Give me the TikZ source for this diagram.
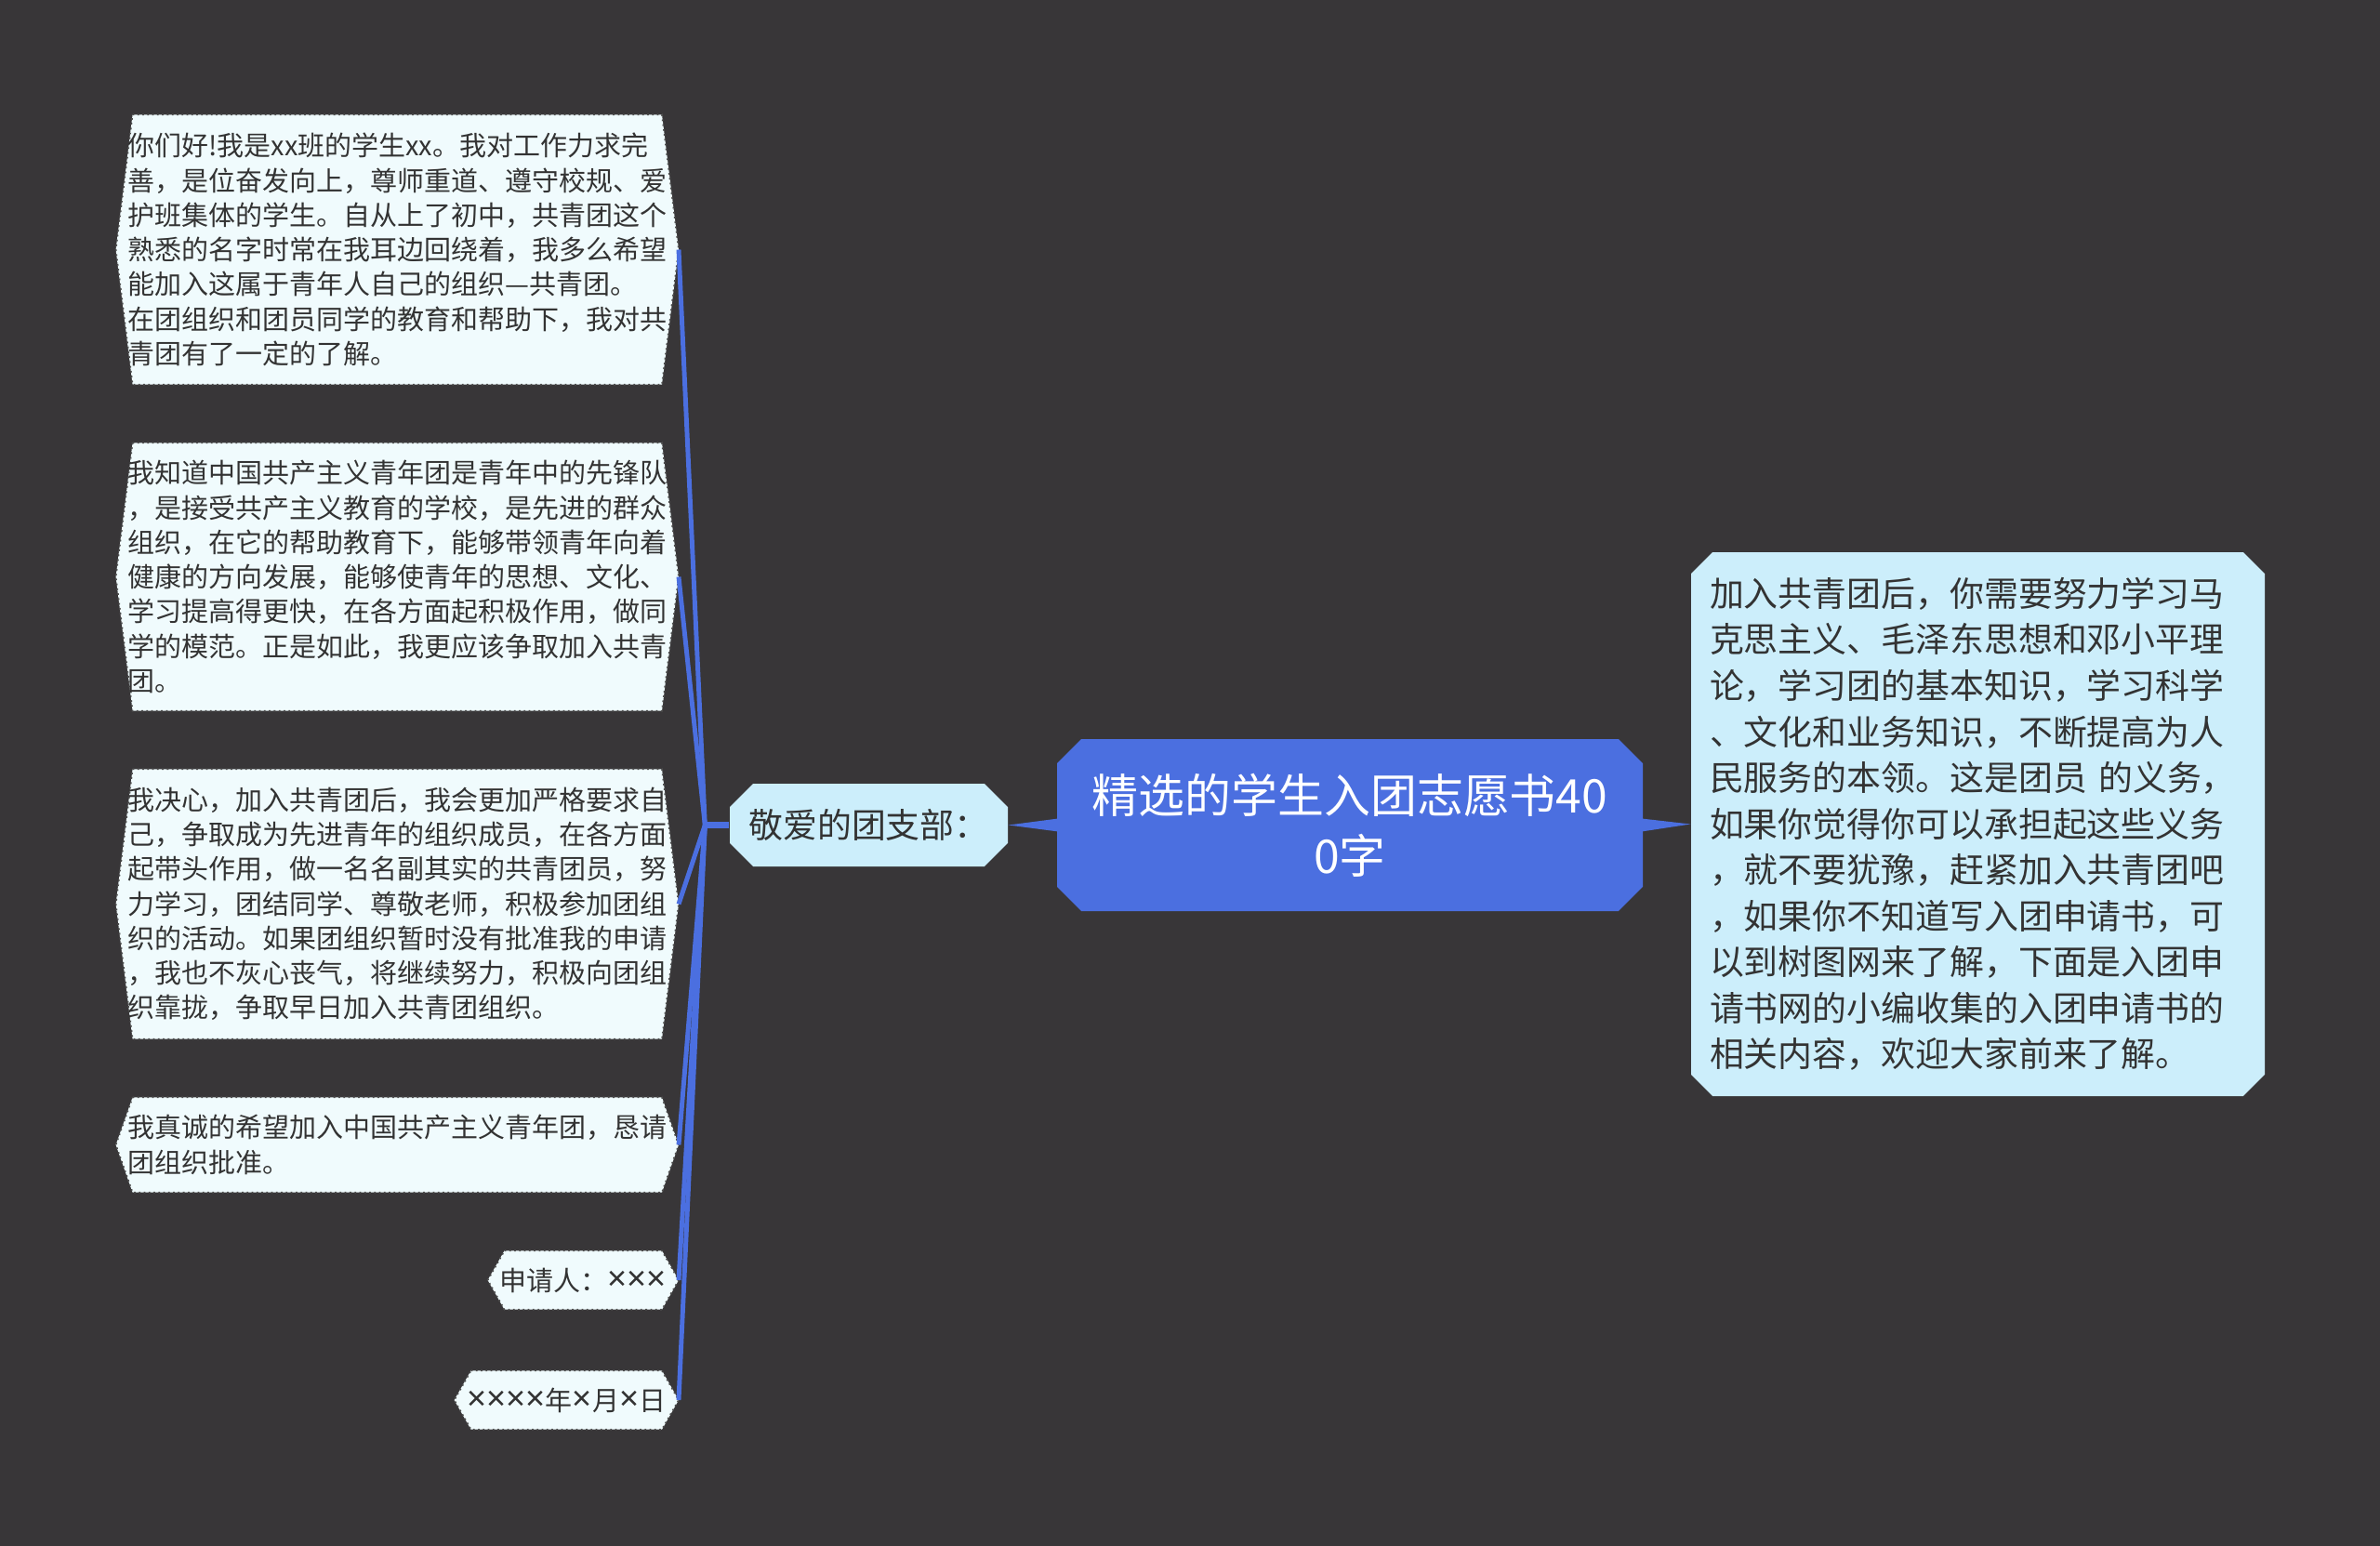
\documentclass[tikz,border=0pt]{standalone}
\usepackage{fontspec}
\newfontfamily\cjk{Noto Sans CJK SC}
\newfontfamily\latin{Noto Sans}
\usepackage{tikz}
\usetikzlibrary{shapes.misc, positioning, calc, backgrounds}

\definecolor{bgdark}{HTML}{383638}
\definecolor{mapblue}{HTML}{4B6FE0}
\definecolor{leaffill}{HTML}{F0FBFD}
\definecolor{notefill}{HTML}{CCEEFB}
\definecolor{textgray}{HTML}{333333}

\newcommand{\mx}{{\latin\fontsize{10.5}{10.6}\selectfont ×}}

\begin{document}
\begin{tikzpicture}[
            leaf_box/.style={rectangle, inner xsep=0.12cm, inner ysep=0pt, anchor=east,
            text width=5.8cm, align=left, text=textgray, font=\cjk\fontsize{8.25}{10.6}\selectfont},
            tag_box/.style={rectangle, inner sep=0pt, anchor=east, align=center,
            text=textgray, minimum height=0.62cm, font=\cjk\fontsize{8.25}{10.6}\selectfont},
            leaf_edge/.style={fill=leaffill, draw=black!70, densely dotted, line width=0.5pt},
            topic_box/.style={chamfered rectangle, chamfered rectangle xsep=0.15cm, fill=notefill,
            inner sep=0pt, align=center, text=textgray, font=\cjk\fontsize{10.5}{14.1}\selectfont},
            root_box/.style={chamfered rectangle, chamfered rectangle xsep=0.16cm, fill=mapblue,
            inner sep=0pt, align=center, text=white, font=\cjk\fontsize{14.2}{18.5}\selectfont},
            note_box/.style={chamfered rectangle, chamfered rectangle xsep=0.13cm, fill=notefill,
            inner sep=0pt, text width=5.77cm, align=left, text=textgray,
            font=\cjk\fontsize{10.5}{14.1}\selectfont},
            link/.style={draw=mapblue, line width=1.4pt}
        ]

            % Centre and main branches
            \node[root_box, minimum width=6.30cm, minimum height=1.85cm] (root) at (14.52, -8.875)
                {精选的学生入团志愿书40\\0字};
            \node[topic_box, minimum width=2.99cm, minimum height=0.89cm] (branch) at (9.345, -8.875)
                {敬爱的团支部：};
            \node[note_box, minimum width=6.17cm, minimum height=5.85cm] (note) at (21.275, -8.865)
                {加入共青团后，你需要努力学习马\\
                 克思主义、毛泽东思想和邓小平理\\
                 论，学习团的基本知识，学习科学\\
                 、文化和业务知识，不断提高为人\\
                 民服务的本领。这是团员 的义务，\\
                 如果你觉得你可以承担起这些义务\\
                 ，就不要犹豫，赶紧加入共青团吧\\
                 ，如果你不知道写入团申请书，可\\
                 以到树图网来了解，下面是入团申\\
                 请书网的小编收集的入团申请书的\\
                 相关内容，欢迎大家前来了解。};

            % Letter paragraphs (left column)
            \node[leaf_box, minimum height=2.89cm] (l1) at (7.30, -2.685)
                {你们好!我是xx班的学生xx。我对工作力求完\\
                 善，是位奋发向上，尊师重道、遵守校规、爱\\
                 护班集体的学生。自从上了初中，共青团这个\\
                 熟悉的名字时常在我耳边回绕着，我多么希望\\
                 能加入这属于青年人自己的组织—共青团。\\
                 在团组织和团员同学的教育和帮助下，我对共\\
                 青团有了一定的了解。};
            \node[leaf_box, minimum height=2.87cm] (l2) at (7.30, -6.205)
                {我知道中国共产主义青年团是青年中的先锋队\\
                 ，是接受共产主义教育的学校，是先进的群众\\
                 组织，在它的帮助教育下，能够带领青年向着\\
                 健康的方向发展，能够使青年的思想、文化、\\
                 学习提高得更快，在各方面起积极作用，做同\\
                 学的模范。正是如此，我更应该争取加入共青\\
                 团。};
            \node[leaf_box, minimum height=2.89cm] (l3) at (7.30, -9.725)
                {我决心，加入共青团后，我会更加严格要求自\\
                 己，争取成为先进青年的组织成员，在各方面\\
                 起带头作用，做一名名副其实的共青团员，努\\
                 力学习，团结同学、尊敬老师，积极参加团组\\
                 织的活动。如果团组织暂时没有批准我的申请\\
                 ，我也不灰心丧气，将继续努力，积极向团组\\
                 织靠拢，争取早日加入共青团组织。};
            \node[leaf_box, minimum height=1.01cm] (l4) at (7.30, -12.315)
                {我真诚的希望加入中国共产主义青年团，恳请\\
                 团组织批准。};
            \node[tag_box, minimum width=2.04cm] (l5) at (7.30, -13.77) {申请人：\mx\mx\mx};
            \node[tag_box, minimum width=2.40cm] (l6) at (7.30, -15.06) {\mx\mx\mx\mx 年\mx 月\mx 日};

            \coordinate (hub) at ($(branch.west)+(-0.26,0)$);

            % Backdrop and leaf outlines
            \begin{scope}[on background layer]
                \fill[bgdark] (0,0) rectangle (25.6,-16.63);
                \foreach \n in {l1,l2,l3,l4,l5,l6} {
                    \draw[leaf_edge] ($(\n.north west)+(0.18,0)$) -- ($(\n.north east)+(-0.18,0)$)
                        -- (\n.east) -- ($(\n.south east)+(-0.18,0)$)
                        -- ($(\n.south west)+(0.18,0)$) -- (\n.west) -- cycle;
                }
            \end{scope}

            % Connectors
            \fill[mapblue] ($(root.west)+(0.02,0.07)$) -- (branch.east)
                -- ($(root.west)+(0.02,-0.07)$) -- cycle;
            \fill[mapblue] ($(root.east)+(-0.02,0.07)$) -- (note.west)
                -- ($(root.east)+(-0.02,-0.07)$) -- cycle;
            \draw[link, line width=1.8pt] (branch.west) -- (hub);
            \foreach \n in {l1,l2,l3,l4,l5,l6} {
                \draw[link] (hub) -- (\n.east);
            }

        \end{tikzpicture}
\end{document}
